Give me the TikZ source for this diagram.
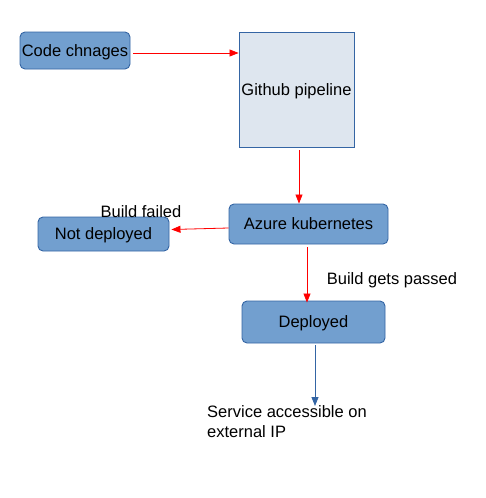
\documentclass[tikz,border=0pt]{standalone}
\usepackage{fontspec}
\setmainfont{Liberation Sans}
\usetikzlibrary{arrows.meta}
\definecolor{boxfill}{HTML}{729FCF}
\definecolor{boxline}{HTML}{3465A4}
\definecolor{pipefill}{HTML}{DEE6EF}
\begin{document}
\begin{tikzpicture}[x=1pt,y=-1pt,
  font=\fontsize{16.5}{20}\selectfont,
  stage/.style={draw=boxline,fill=boxfill,line width=0.9pt,rounded corners=5pt,inner sep=0pt,text depth=0pt},
  redarrow/.style={draw=red,line width=0.8pt,-{Triangle[length=9pt,width=7pt]}},
  bluearrow/.style={draw=boxline,line width=0.8pt,-{Triangle[length=9pt,width=7pt]}}]
\useasboundingbox (0,0) rectangle (485,498);

%boxes
\node[stage,minimum width=110pt,minimum height=37pt] (P1) at (75,50.5) {Code chnages};
\node[draw=boxline,fill=pipefill,line width=0.9pt,inner sep=0pt,text depth=0pt,minimum width=115pt,minimum height=115pt] (P2) at (296.5,89.5) {Github pipeline};
\node[stage,minimum width=159pt,minimum height=40pt] (P3) at (308.5,224) {Azure kubernetes};
\node[stage,minimum width=131pt,minimum height=34pt] (P4) at (103.5,234) {Not deployed};
\node[stage,minimum width=143pt,minimum height=42pt] (P5) at (313.5,322) {Deployed};
\node[inner sep=0pt,anchor=north west,align=left] (P6) at (207,405) {Service accessible on\\external IP};

%labels
\node (P7) at (141,212) {Build failed};
\node (P8) at (392,280) {Build gets passed};

%arrows
\draw[redarrow] ([xshift=3pt,yshift=-2.5pt]P1.east) -- ([yshift=-2.5pt]P1.east -| P2.west);
\draw[redarrow] ([xshift=2.5pt,yshift=-3pt]P2.south) -- ([xshift=2.5pt]P2.south |- P3.north);
\draw[redarrow] ([yshift=-4pt]P3.west) -- ([xshift=2pt,yshift=4.5pt]P4.east);
\draw[redarrow] ([xshift=-1.5pt,yshift=-3pt]P3.south) -- ([xshift=-1.5pt,yshift=-2pt]P3.south |- P5.north);
\draw[bluearrow] ([xshift=1.5pt,yshift=-2pt]P5.south) -- ([xshift=1.5pt,yshift=-1pt]P5.south |- P6.north);
\end{tikzpicture}
\end{document}
